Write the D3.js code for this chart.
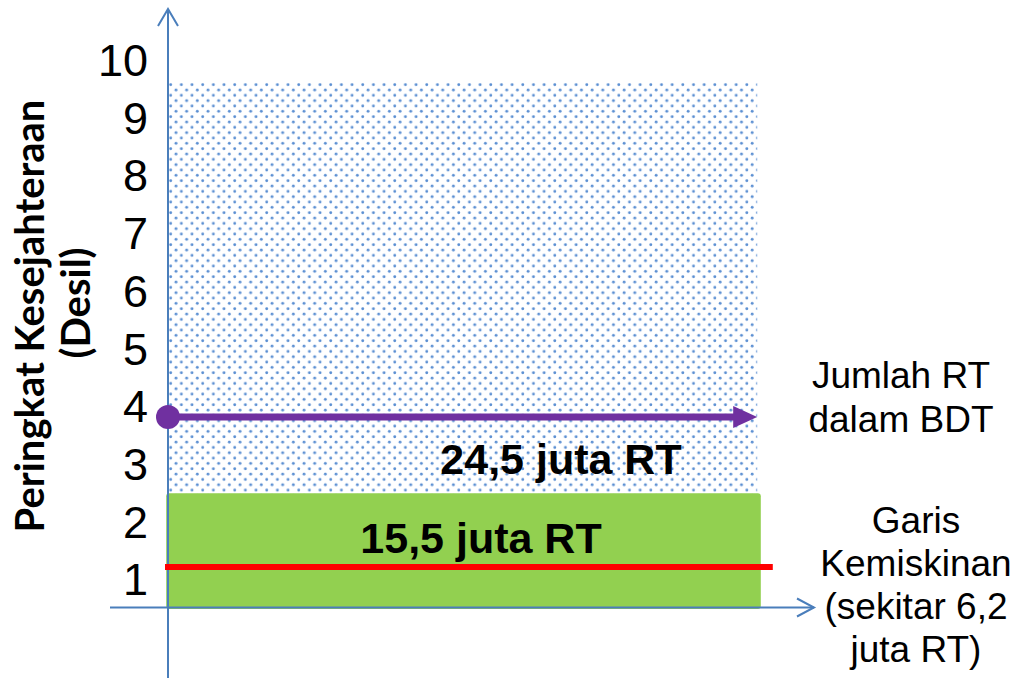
<!DOCTYPE html>
<html>
<head>
<meta charset="utf-8">
<script src="https://cdn.jsdelivr.net/npm/d3@7"></script>
<style>
  html, body { margin: 0; padding: 0; background: #fff; }
  svg { display: block; }
</style>
</head>
<body>
<svg id="chart" width="1015" height="678"></svg>
<script>
// ---- data ----
const decileLabels = ["1", "2", "3", "4", "5", "6", "7", "8", "9", "10"];
const bdtTop = 9.1;            // top of dotted BDT area (decile)
const bdtExtent = [0, 9.82];   // horizontal extent of dotted area
const bdtArrowLevel = 3.3;     // purple arrow level (decile)
const bdtArrowExtent = [0, 9.82];
const targetTop = 1.98;        // green area top (decile)
const targetExtent = [-0.03, 9.88];
const povertyLevel = 0.7;      // red line level
const povertyExtent = [-0.05, 10.08];
const bdtLabel = "24,5 juta RT";
const targetLabel = "15,5 juta RT";
const yTitle = ["Peringkat Kesejahteraan", "(Desil)"];
const bdtNote = ["Jumlah RT", "dalam BDT"];
const povertyNote = ["Garis", "Kemiskinan", "(sekitar 6,2", "juta RT)"];

// ---- scales ----
const svg = d3.select("#chart");
const y = d3.scaleLinear().domain([0, 10]).range([607.5, 30.5]);
const x = d3.scaleLinear().domain([0, 10]).range([168, 768]);

const axisColor = "#4a7ebb";
const defs = svg.append("defs");
const pat = defs.append("pattern")
  .attr("id", "dots").attr("patternUnits", "userSpaceOnUse")
  .attr("width", 10.67).attr("height", 10.67)
  .attr("x", 168).attr("y", 82);
pat.append("circle").attr("cx", 2.67).attr("cy", 2.67).attr("r", 1.45).attr("fill", "#5b8fd2");
pat.append("circle").attr("cx", 8).attr("cy", 8).attr("r", 1.45).attr("fill", "#5b8fd2");

// dotted BDT area
svg.append("rect")
  .attr("x", x(bdtExtent[0])).attr("y", y(bdtTop))
  .attr("width", x(bdtExtent[1]) - x(bdtExtent[0]))
  .attr("height", y(0) - y(bdtTop))
  .attr("fill", "url(#dots)");

// green area
svg.append("rect")
  .attr("x", x(targetExtent[0])).attr("y", y(targetTop))
  .attr("width", x(targetExtent[1]) - x(targetExtent[0]))
  .attr("height", y(0) - y(targetTop) + 1.5)
  .attr("rx", 3).attr("ry", 3)
  .attr("fill", "#92d050");

// axes lines
// x axis
svg.append("line")
  .attr("x1", 110).attr("x2", 814).attr("y1", y(0)).attr("y2", y(0))
  .attr("stroke", axisColor).attr("stroke-width", 2);
svg.append("path")
  .attr("d", `M${797},${y(0) - 9} L${814},${y(0)} L${797},${y(0) + 9}`)
  .attr("fill", "none").attr("stroke", axisColor).attr("stroke-width", 2);
// y axis
svg.append("line")
  .attr("x1", x(0)).attr("x2", x(0)).attr("y1", 10).attr("y2", 678)
  .attr("stroke", axisColor).attr("stroke-width", 2);
svg.append("path")
  .attr("d", `M${x(0) - 10},${26} L${x(0)},${9} L${x(0) + 10},${26}`)
  .attr("fill", "none").attr("stroke", axisColor).attr("stroke-width", 2);

// y tick labels (decile bands) via d3 axis
const yAxis = d3.axisLeft(y)
  .tickValues(decileLabels.map((d, i) => i + 0.5))
  .tickFormat((d, i) => decileLabels[i])
  .tickSize(0).tickPadding(0);
const gY = svg.append("g").attr("transform", "translate(148,0)").call(yAxis);
gY.select(".domain").remove();
gY.selectAll("text")
  .attr("font-family", "Liberation Sans, Arial, sans-serif")
  .attr("font-size", 45).attr("fill", "#000").attr("dy", "0.36em");

// red poverty line
svg.append("line")
  .attr("x1", x(povertyExtent[0])).attr("x2", x(povertyExtent[1]))
  .attr("y1", y(povertyLevel)).attr("y2", y(povertyLevel))
  .attr("stroke", "#ff0000").attr("stroke-width", 6);

// purple arrow
const py = y(bdtArrowLevel);
const ax1 = x(bdtArrowExtent[1]);
svg.append("line")
  .attr("x1", x(bdtArrowExtent[0])).attr("x2", ax1 - 20)
  .attr("y1", py).attr("y2", py)
  .attr("stroke", "#7030a0").attr("stroke-width", 7);
svg.append("path")
  .attr("d", `M${ax1 - 24},${py - 11} L${ax1},${py} L${ax1 - 24},${py + 11} Z`)
  .attr("fill", "#7030a0");
svg.append("circle")
  .attr("cx", x(bdtArrowExtent[0])).attr("cy", py).attr("r", 12)
  .attr("fill", "#7030a0");

// bold labels
svg.append("text")
  .attr("x", 561).attr("y", 474).attr("text-anchor", "middle")
  .attr("font-family", "Liberation Sans, Arial, sans-serif")
  .attr("font-weight", "bold").attr("font-size", 43).attr("fill", "#000")
  .text(bdtLabel);
svg.append("text")
  .attr("x", 481).attr("y", 553).attr("text-anchor", "middle")
  .attr("font-family", "Liberation Sans, Arial, sans-serif")
  .attr("font-weight", "bold").attr("font-size", 43).attr("fill", "#000")
  .text(targetLabel);

// right notes
const noteFont = "Liberation Sans, Arial, sans-serif";
svg.append("g").selectAll("text").data(bdtNote).join("text")
  .attr("x", 901).attr("y", (d, i) => 388 + i * 44)
  .attr("text-anchor", "middle").attr("font-family", noteFont)
  .attr("font-size", 37).attr("fill", "#000").text(d => d);
svg.append("g").selectAll("text").data(povertyNote).join("text")
  .attr("x", 916).attr("y", (d, i) => 533 + i * 43)
  .attr("text-anchor", "middle").attr("font-family", noteFont)
  .attr("font-size", 37).attr("fill", "#000").text(d => d);

// y title
const titleFont = "Lato, 'Open Sans', sans-serif";
svg.append("text")
  .attr("transform", "translate(44,316) rotate(-90)")
  .attr("text-anchor", "middle").attr("font-family", titleFont)
  .attr("font-weight", "bold").attr("font-size", 40).attr("fill", "#000")
  .text(yTitle[0]);
svg.append("text")
  .attr("transform", "translate(90,303) rotate(-90)")
  .attr("text-anchor", "middle").attr("font-family", titleFont)
  .attr("font-weight", "bold").attr("font-size", 40).attr("fill", "#000")
  .text(yTitle[1]);
</script>
</body>
</html>
